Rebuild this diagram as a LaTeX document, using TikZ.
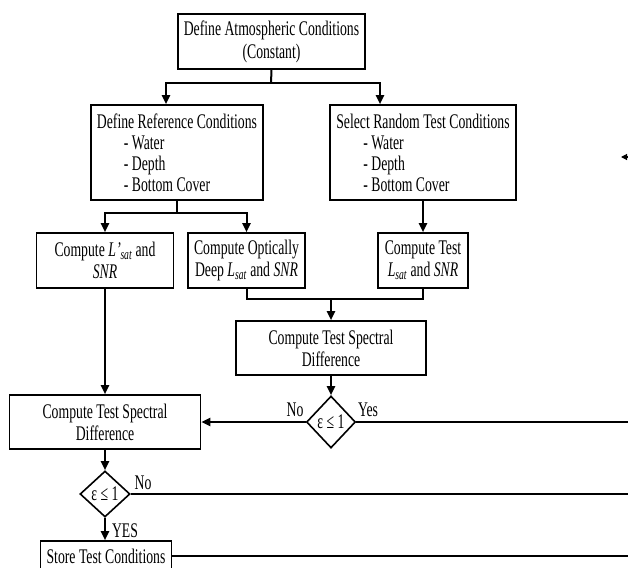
\documentclass[tikz,border=0pt]{standalone}
\usepackage{fontspec}
\setmainfont{Liberation Serif}[FakeStretch=0.66]
\usetikzlibrary{arrows.meta,shapes.geometric}
\newcommand\myfs{\fontsize{20.8}{22}\selectfont}
\newcommand\Ls{{\itshape L}\textsubscript{\itshape sat}}
\begin{document}
\begin{tikzpicture}[x=1pt,y=-1pt,
  box/.style={draw,line width=1.6pt,inner sep=0pt,align=center,font=\myfs},
  dia/.style={draw,diamond,line width=1.6pt,inner sep=0pt,font=\myfs,minimum width=49pt,minimum height=50pt},
  lbl/.style={font=\myfs,inner sep=0pt},
  con/.style={line width=2pt},
  arr/.style={line width=2pt,-{Triangle[length=9pt,width=8pt]}}]
\clip (0,0) rectangle (628,567);
\fill[white] (0,0) rectangle (628,567);
% nodes
\node[box,minimum width=187pt,minimum height=55pt] (top) at (271.5,41.5)
  {Define Atmospheric Conditions\\[1pt](Constant)};
\node[box,minimum width=172pt,minimum height=95pt,align=left] (ref) at (177,152.5)
  {Define Reference Conditions\\[-1pt] \hspace*{27pt}- Water\\[-1pt] \hspace*{27pt}- Depth\\[-1pt] \hspace*{27pt}- Bottom Cover};
\node[box,minimum width=186pt,minimum height=95pt,align=left] (sel) at (423,152.5)
  {Select Random Test Conditions\\[-1pt] \hspace*{27pt}- Water\\[-1pt] \hspace*{27pt}- Depth\\[-1pt] \hspace*{27pt}- Bottom Cover};
\node[box,minimum width=137pt,minimum height=55pt] (lsat) at (105,260.5)
  {Compute {\itshape L\kern0.5pt\char"0027}\kern-0.5pt\textsubscript{\itshape sat} and\\ {\itshape SNR}};
\node[box,minimum width=117pt,minimum height=55pt] (deep) at (246.5,260.5)
  {Compute Optically\\ Deep \Ls{} and {\itshape SNR}};
\node[box,minimum width=90pt,minimum height=55pt] (test) at (423,260.5)
  {Compute Test\\ \Ls{} and {\itshape SNR}};
\node[box,minimum width=190pt,minimum height=54pt] (diffC) at (331,348)
  {Compute Test Spectral\\ Difference};
\node[dia,minimum height=52pt] (d1) at (331,422) {ε ≤ 1};
\node[box,minimum width=191pt,minimum height=54pt] (diffL) at (105,422)
  {Compute Test Spectral\\ Difference};
\node[dia,minimum width=50pt,minimum height=46pt] (d2) at (105,494) {ε ≤ 1};
\node[box,minimum width=131pt,minimum height=30pt] (store) at (106,556)
  {Store Test Conditions};
% connectors
\coordinate (j1) at (271,83);
\draw[con] (top.south) -- (j1);
\draw[arr] (j1) -| ([xshift=-11pt]ref.north);
\draw[arr] (j1) -| ([xshift=-43pt]sel.north);
\coordinate (j2) at (177,213);
\draw[con] (ref.south) -- (j2);
\draw[arr] (j2) -| (lsat.north);
\draw[arr] (j2) -| (deep.north);
\draw[arr] (sel.south) -- (test.north);
\coordinate (j3) at (331,299);
\draw[con] (deep.south) |- (j3);
\draw[con] (test.south) |- (j3);
\draw[arr] (j3) -- (diffC.north);
\draw[arr] (diffC.south) -- (d1.north);
\draw[arr] (d1.west) -- (diffL.east);
\node[lbl] (no1) at (295,410) {No};
\coordinate (e1) at (630,422);
\draw[con] (d1.east) -- (e1);
\node[lbl] (yes1) at (368,410) {Yes};
\draw[arr] (lsat.south) -- (diffL.north);
\draw[arr] (diffL.south) -- (d2.north);
\coordinate (e2) at (630,494);
\draw[con] (d2.east) -- (e2);
\node[lbl] (no2) at (143,483) {No};
\draw[arr] (d2.south) -- (d2.south |- store.north);
\node[lbl] (yes2) at (125,531) {YES};
\coordinate (e3) at (630,556);
\draw[con] (store.east) -- (e3);
\coordinate (e4) at (640,157);
\coordinate (t4) at (621,157);
\draw[line width=1.2pt,-{Triangle[length=6pt,width=6pt]}] (e4) -- (t4);
\end{tikzpicture}
\end{document}
